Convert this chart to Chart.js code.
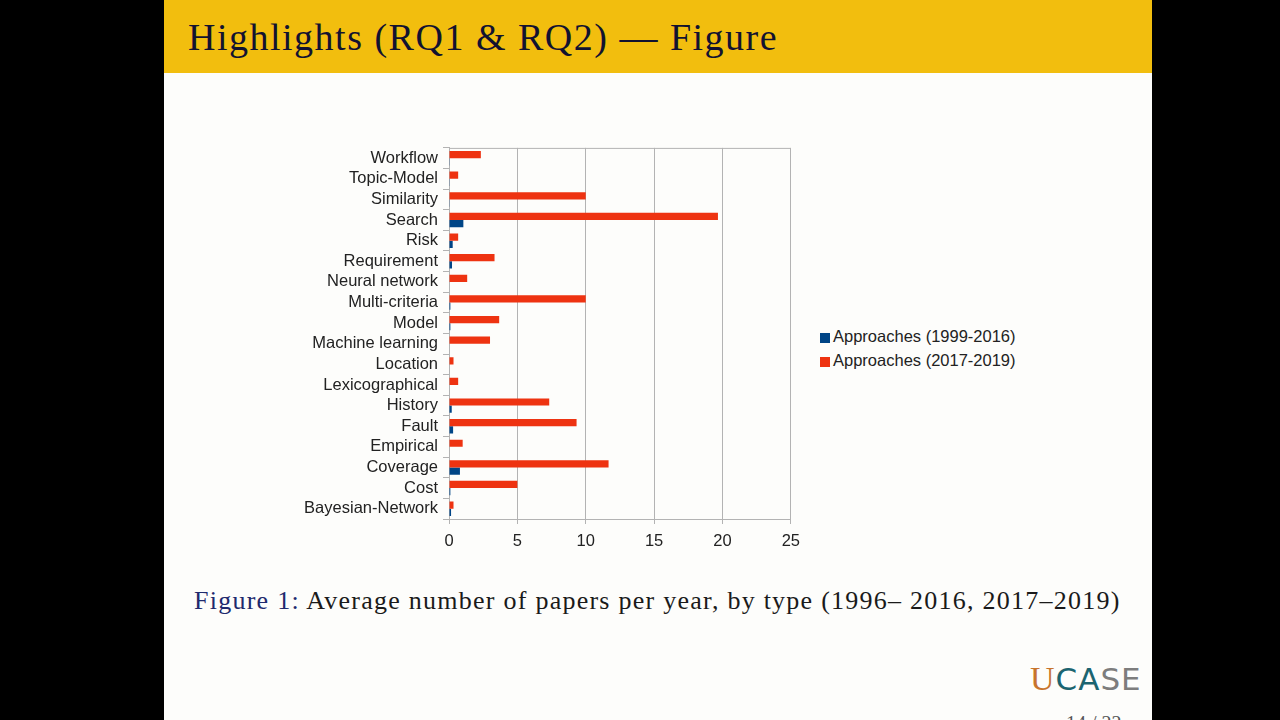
<!DOCTYPE html>
<html>
<head>
<meta charset="utf-8">
<script src="https://cdn.jsdelivr.net/npm/chart.js@4.4.1/dist/chart.umd.min.js"></script>
<style>
  html, body { margin: 0; padding: 0; background: #000; width: 1280px; height: 720px; overflow: hidden; }
  #slide { position: absolute; left: 164px; top: 0; width: 988px; height: 720px; background: #fdfdfb; overflow: hidden; }
  #head { position: absolute; left: 0; top: 0; width: 988px; height: 73px; background: #f2be0e; }
  #title { position: absolute; left: 24px; top: 15px; font-family: "Liberation Serif", serif; font-size: 38px; letter-spacing: 1.5px; color: #121230; white-space: nowrap; }
  #chartbox { position: absolute; left: 126px; top: 133px; width: 518px; height: 420px; }
  #legend { position: absolute; left: 656px; top: 326px; font-family: "Liberation Sans", sans-serif; font-size: 16.5px; color: #222; }
  #legend .item { height: 24px; line-height: 20px; white-space: nowrap; }
  #legend .box { display: inline-block; width: 10px; height: 10px; margin-right: 3px; vertical-align: -1px; }
  #caption { position: absolute; left: 30px; top: 586px; font-family: "Liberation Serif", serif; font-size: 26px; letter-spacing: 1.25px; color: #1a1a1a; white-space: nowrap; }
  #caption .lab { color: #1f2a6e; }
  #logo { position: absolute; left: 866px; top: 660px; font-family: "DejaVu Sans", sans-serif; font-size: 31px; white-space: nowrap; letter-spacing: 1px; }
  #logo .u { color: #c8742c; font-family: "Liberation Serif", serif; font-size: 34px; }
  #logo .c { color: #1b6470; }
  #logo .s { color: #7d7d7d; }
  #page { position: absolute; left: 902px; top: 712px; font-family: "Liberation Serif", serif; font-size: 20px; color: #555; }
</style>
</head>
<body>
<div id="slide">
  <div id="head"><div id="title">Highlights (RQ1 &amp; RQ2) — Figure</div></div>
  <div id="chartbox"><canvas id="chart"></canvas></div>
  <div id="legend"></div>
  <div id="caption"><span class="lab">Figure 1:</span> Average number of papers per year, by type (1996– 2016, 2017–2019)</div>
  <div id="logo"><span class="u">U</span><span class="c">CA</span><span class="s">SE</span></div>
  <div id="page">14 / 22</div>
</div>
<script>
// categories, top to bottom as drawn
var categories = ['Workflow', 'Topic-Model', 'Similarity', 'Search', 'Risk', 'Requirement',
  'Neural network', 'Multi-criteria', 'Model', 'Machine learning', 'Location', 'Lexicographical',
  'History', 'Fault', 'Empirical', 'Coverage', 'Cost', 'Bayesian-Network'];

// average papers per year
var approaches1999 = [0.05, 0.05, 0.05, 1.05, 0.27, 0.22, 0, 0.1, 0.1, 0, 0, 0, 0.2, 0.3, 0, 0.8, 0.1, 0.15];
var approaches2017 = [2.33, 0.67, 10, 19.67, 0.67, 3.33, 1.33, 10, 3.67, 3, 0.33, 0.67, 7.33, 9.33, 1, 11.67, 5, 0.33];

var xTicks = [0, 5, 10, 15, 20, 25];

var frameColor = '#b3b3b3';
var labelFont = { family: 'Liberation Sans', size: 16.5 };

// draws the top edge of the plot frame
var frameTop = {
  id: 'frameTop',
  afterDraw: function (chart) {
    var a = chart.chartArea, ctx = chart.ctx;
    ctx.save();
    ctx.strokeStyle = frameColor;
    ctx.lineWidth = 1;
    ctx.beginPath();
    ctx.moveTo(a.left, a.top + 0.5);
    ctx.lineTo(a.right, a.top + 0.5);
    ctx.stroke();
    ctx.restore();
  }
};

var chart = new Chart(document.getElementById('chart'), {
  type: 'bar',
  data: {
    labels: categories,
    datasets: [
      { label: 'Approaches (2017-2019)', data: approaches2017, backgroundColor: '#ee3311' },
      { label: 'Approaches (1999-2016)', data: approaches1999, backgroundColor: '#004586' }
    ]
  },
  options: {
    indexAxis: 'y',
    responsive: true,
    maintainAspectRatio: false,
    animation: false,
    datasets: { bar: { categoryPercentage: 0.7, barPercentage: 1.0 } },
    layout: { padding: { top: 1, right: 12, left: 0, bottom: 0 } },
    plugins: {
      tooltip: { enabled: false },
      legend: { display: false }
    },
    scales: {
      x: {
        min: 0, max: 25,
        afterBuildTicks: function (axis) { axis.ticks = xTicks.map(function (v) { return { value: v }; }); },
        afterFit: function (axis) { axis.height = 34; },
        grid: { color: frameColor, tickLength: 5 },
        border: { color: frameColor },
        ticks: { color: '#222', font: labelFont, padding: 8 }
      },
      y: {
        afterFit: function (axis) { axis.width = 159; },
        grid: { drawOnChartArea: false, color: frameColor, tickLength: 6 },
        border: { color: frameColor },
        ticks: { color: '#222', font: labelFont, padding: 5, autoSkip: false }
      }
    }
  },
  plugins: [frameTop]
});

// legend, older period first
var legendEl = document.getElementById('legend');
chart.data.datasets.slice().reverse().forEach(function (ds) {
  var row = document.createElement('div');
  row.className = 'item';
  row.innerHTML = '<span class="box" style="background:' + ds.backgroundColor + '"></span>' + ds.label;
  legendEl.appendChild(row);
});
</script>
</body>
</html>
